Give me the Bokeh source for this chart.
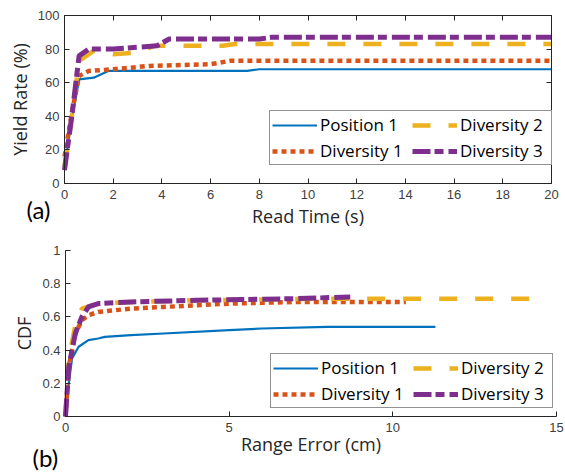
from bokeh.plotting import figure
from bokeh.models import (Range1d, LinearAxis, Legend, LegendItem, Label, FixedTicker,
                          CustomJSTickFormatter, BoxAnnotation)
from bokeh.layouts import column
from bokeh.embed import file_html
from bokeh.resources import INLINE

# ---- data (a): yield rate vs read time ----
t_pos1 = [0, 0.3, 0.6, 1.2, 1.8, 7.5, 8.0, 20]
y_pos1 = [10, 38, 62, 63, 67, 67, 68, 68]
t_div1 = [0, 0.3, 0.6, 1.0, 2.0, 3.5, 6.0, 6.8, 20]
y_div1 = [16, 42, 64, 67, 68, 70, 71, 73, 73]
t_div2 = [0, 0.3, 0.6, 1.2, 2.0, 3.0, 3.7, 6.5, 7.0, 20]
y_div2 = [10, 40, 73, 79, 77, 78, 82, 82, 83, 83]
t_div3 = [0, 0.3, 0.6, 1.0, 2.0, 3.8, 4.3, 8.0, 8.5, 20]
y_div3 = [8, 40, 76, 80, 80, 82, 86, 86, 87, 87]
xticks_a = [0, 2, 4, 6, 8, 10, 12, 14, 16, 18, 20]
yticks_a = [0, 20, 40, 60, 80, 100]

# ---- data (b): CDF vs range error ----
e_pos1 = [0, 0.1, 0.2, 0.4, 0.7, 1.0, 1.2, 2.0, 3.0, 5.0, 6.0, 8.0, 11.3]
c_pos1 = [0, 0.20, 0.35, 0.42, 0.46, 0.47, 0.48, 0.49, 0.50, 0.52, 0.53, 0.54, 0.54]
e_div1 = [0, 0.1, 0.3, 0.5, 0.7, 1.0, 1.5, 2.0, 3.0, 4.0, 5.0, 7.0, 10.4]
c_div1 = [0, 0.30, 0.50, 0.58, 0.61, 0.63, 0.64, 0.65, 0.66, 0.67, 0.68, 0.69, 0.69]
e_div2 = [0, 0.1, 0.3, 0.5, 0.8, 1.0, 2.0, 4.0, 8.0, 14.6]
c_div2 = [0, 0.35, 0.55, 0.65, 0.67, 0.68, 0.69, 0.70, 0.71, 0.71]
e_div3 = [0, 0.1, 0.3, 0.5, 0.7, 1.0, 2.0, 4.0, 7.0, 8.7]
c_div3 = [0, 0.30, 0.50, 0.60, 0.66, 0.68, 0.69, 0.70, 0.71, 0.72]
xticks_b = [0, 5, 10, 15]
yticks_b = [0, 0.2, 0.4, 0.6, 0.8, 1.0]

names = ["Position 1", "Diversity 1", "Diversity 2", "Diversity 3"]
colors = ["#0072BD", "#D95319", "#EDB120", "#7E2F8E"]
widths = [2.2, 4.5, 4.5, 5]
dashes = ["solid", "5 4", "18 18", "18 4 9 5"]

AX = "#262626"
TICKF = "Liberation Sans"
LABF = "Open Sans"
W = 565


def make_fig(height, xlim, ylim, px_x, px_y):
    """Frame fills the whole canvas; axes are pinned at the data limits."""
    sx = (px_x[1] - px_x[0]) / (xlim[1] - xlim[0])
    sy = (px_y[1] - px_y[0]) / (ylim[1] - ylim[0])
    xr = Range1d(xlim[0] - px_x[0] / sx, xlim[1] + (W - px_x[1]) / sx)
    yr = Range1d(ylim[0] - (height - px_y[1]) / sy, ylim[1] + px_y[0] / sy)
    p = figure(width=W, height=height, output_backend="svg", toolbar_location=None,
               x_range=xr, y_range=yr, min_border=0, min_border_left=0, min_border_right=0,
               min_border_top=0, min_border_bottom=0)
    p.outline_line_color = None
    p.xgrid.visible = False
    p.ygrid.visible = False
    return p


def style_axes(p, xticks, yticks, xlim, ylim, xlabel, ylabel, xl_standoff, yl_standoff):
    xa, ya = p.xaxis[0], p.yaxis[0]
    xa.fixed_location = ylim[0]
    ya.fixed_location = xlim[0]
    xa.bounds = xlim
    ya.bounds = ylim
    xa.axis_label = xlabel
    ya.axis_label = ylabel
    for ax in (xa, ya):
        ax.axis_line_color = AX
        ax.major_tick_line_color = AX
        ax.major_tick_in = 5
        ax.major_tick_out = 0
        ax.minor_tick_line_color = None
        ax.major_label_text_font = TICKF
        ax.major_label_text_font_size = "13px"
        ax.major_label_text_color = "#404040"
        ax.axis_label_text_font = LABF
        ax.axis_label_text_font_size = "18px"
        ax.axis_label_text_font_style = "normal"
        ax.axis_label_text_color = AX
    xa.ticker = FixedTicker(ticks=xticks)
    ya.ticker = FixedTicker(ticks=yticks)
    xa.major_label_standoff = 6
    ya.major_label_standoff = 5
    xa.axis_label_standoff = xl_standoff
    ya.axis_label_standoff = yl_standoff


def add_box(p, xticks, yticks, xlim, ylim):
    p.add_layout(BoxAnnotation(left=xlim[0], right=xlim[1], bottom=ylim[0], top=ylim[1],
                               fill_color=None, line_color=AX, line_width=1))
    for loc, tk, fl, bd in (("above", xticks, ylim[1], xlim), ("right", yticks, xlim[1], ylim)):
        a = LinearAxis(ticker=FixedTicker(ticks=tk), axis_line_color=AX,
                       major_tick_line_color=AX, major_tick_in=5, major_tick_out=0,
                       minor_tick_line_color=None, fixed_location=fl, bounds=bd,
                       formatter=CustomJSTickFormatter(code="return ''"),
                       major_label_standoff=0)
        p.add_layout(a, loc)


def make_legend(p, renderers, loc):
    items = [LegendItem(label=n, renderers=[r]) for n, r in zip(names, renderers)]
    lg = Legend(items=items, location=loc, nrows=2, orientation="vertical",
                label_text_font=LABF, label_text_font_size="17px",
                label_text_color="black", glyph_width=45, glyph_height=22,
                label_width=89, label_height=22,
                label_standoff=3, spacing=3, padding=2, margin=0,
                border_line_color=AX, border_line_width=1,
                background_fill_color="white", background_fill_alpha=1.0)
    p.add_layout(lg, "center")


# ---- figure (a) ----
H1 = 230
xlim_a, ylim_a = (0, 20), (0, 100)
p1 = make_fig(H1, xlim_a, ylim_a, (64, 551), (15, 183))
style_axes(p1, xticks_a, yticks_a, xlim_a, ylim_a, "Read Time (s)", "Yield Rate (%)", 2, 3)
add_box(p1, xticks_a, yticks_a, xlim_a, ylim_a)
rs = []
for xs, ys, c, w, d in zip([t_pos1, t_div1, t_div2, t_div3], [y_pos1, y_div1, y_div2, y_div3],
                           colors, widths, dashes):
    rs.append(p1.line(xs, ys, line_color=c, line_width=w, line_dash=d))
make_legend(p1, rs, (269, H1 - 165))
p1.add_layout(Label(x=26, y=H1 - 209, x_units="screen", y_units="screen", text="(a)",
                    text_font="Lato", text_font_size="24px", text_color="black",
                    text_align="left", text_baseline="middle"))

# ---- figure (b) ----
H2 = 243
xlim_b, ylim_b = (0, 15), (0, 1)
p2 = make_fig(H2, xlim_b, ylim_b, (65, 556), (20, 186))
style_axes(p2, xticks_b, yticks_b, xlim_b, ylim_b, "Range Error (cm)", "CDF", -3, 3)
rs2 = []
for xs, ys, c, w, d in zip([e_pos1, e_div1, e_div2, e_div3], [c_pos1, c_div1, c_div2, c_div3],
                           colors, widths, dashes):
    rs2.append(p2.line(xs, ys, line_color=c, line_width=w, line_dash=d))
make_legend(p2, rs2, (270, H2 - 178))
p2.add_layout(Label(x=32, y=H2 - 227, x_units="screen", y_units="screen", text="(b)",
                    text_font="Lato", text_font_size="24px", text_color="black",
                    text_align="left", text_baseline="middle"))

layout = column(p1, p2, spacing=0)
open("out.html", "w").write(file_html(layout, INLINE))
